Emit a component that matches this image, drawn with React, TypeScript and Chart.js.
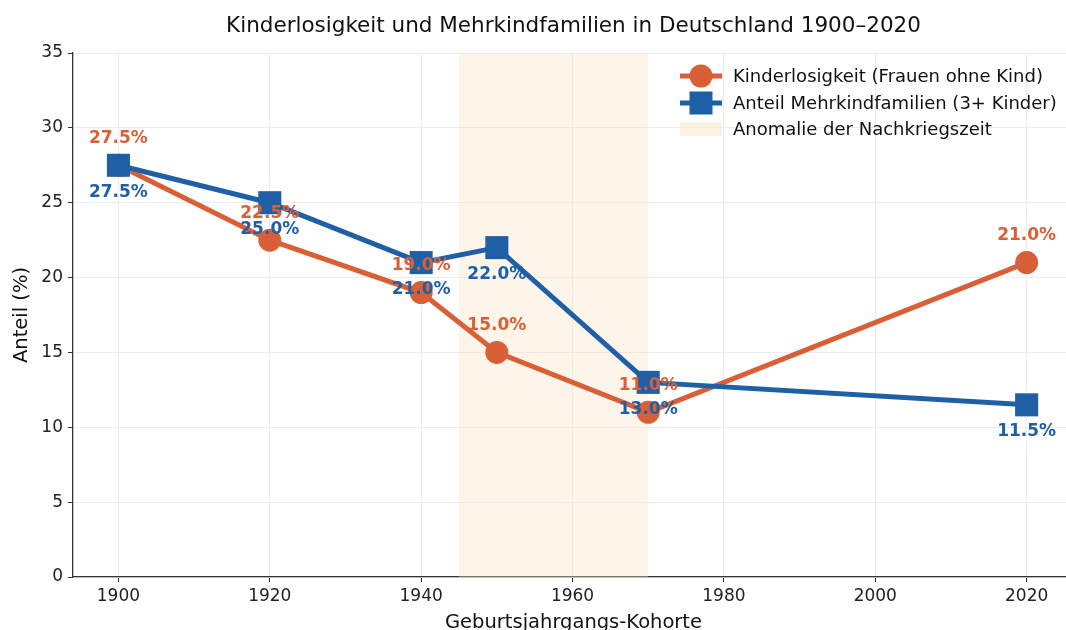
import React, { useEffect, useRef } from "react";
import { Chart, registerables } from "chart.js";

Chart.register(...registerables);

const years = [1900, 1920, 1940, 1950, 1970, 2020];
const kinderlos = [27.5, 22.5, 19.0, 15.0, 11.0, 21.0];
const mehrkind = [27.5, 25.0, 21.0, 22.0, 13.0, 11.5];
const xTicks = [1900, 1920, 1940, 1960, 1980, 2000, 2020];
const yTicks = [0, 5, 10, 15, 20, 25, 30, 35];
const bandRange = [1945, 1970];

const ORANGE = "#d95f36";
const BLUE = "#1f5fa6";
const BAND = "rgba(250, 230, 200, 0.38)";
const FONT = "'DejaVu Sans', sans-serif";

const labels = [
  "Kinderlosigkeit (Frauen ohne Kind)",
  "Anteil Mehrkindfamilien (3+ Kinder)",
  "Anomalie der Nachkriegszeit",
];
const chartTitle = "Kinderlosigkeit und Mehrkindfamilien in Deutschland 1900–2020";
const xTitle = "Geburtsjahrgangs-Kohorte";
const yTitle = "Anteil (%)";

const customPlugin = {
  id: "custom",
  beforeDatasetsDraw(chart: any) {
    const { ctx, chartArea, scales } = chart;
    const x0 = scales.x.getPixelForValue(bandRange[0]);
    const x1 = scales.x.getPixelForValue(bandRange[1]);
    ctx.save();
    ctx.fillStyle = BAND;
    ctx.fillRect(x0, chartArea.top, x1 - x0, chartArea.bottom - chartArea.top);
    ctx.restore();
  },
  afterDatasetsDraw(chart: any) {
    const { ctx, chartArea } = chart;
    ctx.save();
    ctx.font = `bold 17px ${FONT}`;
    ctx.textAlign = "center";
    ctx.textBaseline = "middle";
    chart.data.datasets.forEach((ds: any, i: number) => {
      const meta = chart.getDatasetMeta(i);
      meta.data.forEach((pt: any, j: number) => {
        const v = ds.data[j].y;
        ctx.fillStyle = ds.borderColor;
        const dy = i === 0 ? -27 : 27;
        ctx.fillText(v.toFixed(1) + "%", pt.x, pt.y + dy);
      });
    });
    const cx = (chartArea.left + chartArea.right) / 2;
    ctx.fillStyle = "#111";
    ctx.font = `21.5px ${FONT}`;
    ctx.fillText(chartTitle, cx + 4, 26);
    ctx.font = `19.5px ${FONT}`;
    ctx.fillText(xTitle, cx + 4, 623);
    ctx.save();
    ctx.translate(22, (chartArea.top + chartArea.bottom) / 2);
    ctx.rotate(-Math.PI / 2);
    ctx.fillText(yTitle, 0, 0);
    ctx.restore();
    // legend
    const lx = 680;
    const rows = [76, 103, 129];
    ctx.font = `18px ${FONT}`;
    ctx.textAlign = "left";
    ctx.strokeStyle = ORANGE;
    ctx.lineWidth = 5;
    ctx.beginPath();
    ctx.moveTo(lx, rows[0]);
    ctx.lineTo(lx + 42, rows[0]);
    ctx.stroke();
    ctx.fillStyle = ORANGE;
    ctx.beginPath();
    ctx.arc(lx + 21, rows[0], 11.5, 0, Math.PI * 2);
    ctx.fill();
    ctx.strokeStyle = BLUE;
    ctx.beginPath();
    ctx.moveTo(lx, rows[1]);
    ctx.lineTo(lx + 42, rows[1]);
    ctx.stroke();
    ctx.fillStyle = BLUE;
    ctx.fillRect(lx + 9.5, rows[1] - 11.5, 23, 23);
    ctx.fillStyle = "rgba(250, 230, 200, 0.5)";
    ctx.fillRect(lx, rows[2] - 7, 42, 14);
    ctx.fillStyle = "#111";
    labels.forEach((t, k) => ctx.fillText(t, lx + 53, rows[k] + 1));
    ctx.restore();
  },
};

export default function App() {
  const ref = useRef<HTMLCanvasElement>(null);
  useEffect(() => {
    document.body.style.margin = "0";
    const chart = new Chart(ref.current!, {
      type: "line",
      data: {
        datasets: [
          {
            label: labels[0],
            data: years.map((y, i) => ({ x: y, y: kinderlos[i] })),
            borderColor: ORANGE,
            backgroundColor: ORANGE,
            borderWidth: 5,
            pointStyle: "circle",
            pointRadius: 11.5,
            pointBorderWidth: 0,
            tension: 0,
            order: 2,
          },
          {
            label: labels[1],
            data: years.map((y, i) => ({ x: y, y: mehrkind[i] })),
            borderColor: BLUE,
            backgroundColor: BLUE,
            borderWidth: 5,
            pointStyle: "rect",
            pointRadius: 16.3,
            pointBorderWidth: 0,
            tension: 0,
            order: 1,
          },
        ],
      },
      options: {
        animation: false,
        responsive: false,
        layout: { autoPadding: false, padding: { top: 53, right: 0, left: 0, bottom: 0 } },
        plugins: { legend: { display: false }, tooltip: { enabled: false } },
        scales: {
          x: {
            type: "linear",
            min: 1894,
            max: 2025.2,
            afterBuildTicks: (s: any) => {
              s.ticks = xTicks.map((v) => ({ value: v }));
            },
            afterFit: (s: any) => {
              s.height = 53;
              s.paddingLeft = 0;
              s.paddingRight = 0;
            },
            ticks: {
              font: { family: FONT, size: 17 },
              color: "#222",
              padding: 4,
              maxRotation: 0,
              callback: (v: any) => String(v),
            },
            grid: { color: "#ececec", lineWidth: 1, tickLength: 5, tickColor: "#333" },
            border: { color: "#333", width: 1.3 },
          },
          y: {
            min: 0,
            max: 35,
            afterBuildTicks: (s: any) => {
              s.ticks = yTicks.map((v) => ({ value: v }));
            },
            afterFit: (s: any) => {
              s.width = 73;
              s.paddingTop = 0;
              s.paddingBottom = 0;
            },
            ticks: {
              font: { family: FONT, size: 17 },
              color: "#222",
              padding: 5,
            },
            grid: { color: "#ececec", lineWidth: 1, tickLength: 5, tickColor: "#333" },
            border: { color: "#333", width: 1.3 },
          },
        },
      },
      plugins: [customPlugin],
    });
    return () => chart.destroy();
  }, []);
  return (
    <div style={{ position: "fixed", left: 0, top: 0, width: 1066, height: 630, background: "#fff", overflow: "hidden" }}>
      <canvas ref={ref} width={1066} height={630} style={{ display: "block" }} />
    </div>
  );
}
